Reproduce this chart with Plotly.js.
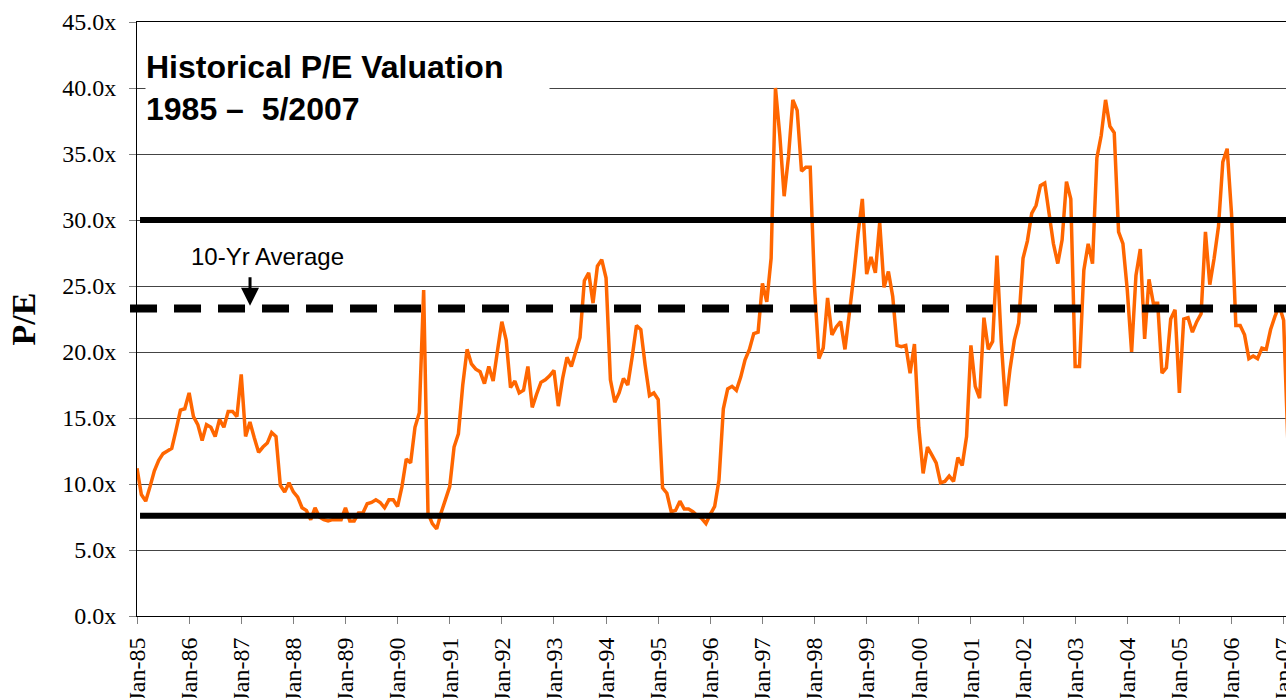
<!DOCTYPE html>
<html>
<head>
<meta charset="utf-8">
<script src="https://cdn.plot.ly/plotly-3.0.1.min.js"></script>
<style>
  html, body { margin: 0; padding: 0; overflow: hidden; background: #ffffff; }
  #chart { width: 1320px; height: 740px; }
</style>
</head>
<body>
<div id="chart"></div>
<script>
// Monthly P/E multiples, Jan-1985 onward (one row per year)
const peValues = [
  11.2, 9.2, 8.7, 9.8, 11.0, 11.8, 12.3, 12.5, 12.7, 14.1, 15.6, 15.7,   // 1985
  16.9, 15.1, 14.5, 13.3, 14.5, 14.3, 13.6, 14.9, 14.3, 15.5, 15.5, 15.1, // 1986
  18.3, 13.6, 14.7, 13.5, 12.4, 12.8, 13.1, 13.9, 13.6, 9.9, 9.4, 10.1,   // 1987
  9.4, 9.0, 8.2, 8.0, 7.3, 8.2, 7.5, 7.3, 7.2, 7.3, 7.3, 7.3,             // 1988
  8.2, 7.2, 7.2, 7.8, 7.8, 8.5, 8.6, 8.8, 8.6, 8.2, 8.8, 8.8,             // 1989
  8.3, 9.8, 11.9, 11.6, 14.3, 15.4, 24.7, 7.8, 7.0, 6.6, 7.8, 8.8,        // 1990
  9.8, 12.8, 13.8, 17.5, 20.2, 19.1, 18.7, 18.5, 17.6, 18.9, 17.8, 20.1,  // 1991
  22.3, 20.9, 17.3, 17.8, 16.9, 17.1, 18.9, 15.8, 16.8, 17.7, 17.9, 18.2, // 1992
  18.6, 15.9, 18.0, 19.6, 18.9, 20.0, 21.1, 25.4, 26.0, 23.7, 26.5, 27.0, // 1993
  25.6, 17.9, 16.2, 16.9, 18.0, 17.5, 19.6, 22.0, 21.7, 19.0, 16.7, 16.9, // 1994
  16.4, 9.7, 9.3, 7.9, 8.0, 8.7, 8.1, 8.1, 7.9, 7.6, 7.4, 7.0,            // 1995
  7.7, 8.3, 10.3, 15.7, 17.2, 17.4, 17.1, 18.1, 19.4, 20.2, 21.4, 21.5,   // 1996
  25.2, 23.8, 27.1, 40.0, 36.4, 31.8, 34.8, 39.1, 38.3, 33.7, 34.0, 34.0, // 1997
  24.9, 19.5, 20.3, 24.1, 21.3, 21.9, 22.3, 20.2, 22.9, 25.7, 28.9, 31.6, // 1998
  25.9, 27.2, 26.0, 29.8, 24.9, 26.1, 24.2, 20.5, 20.4, 20.5, 18.4, 20.6, // 1999
  14.3, 10.8, 12.8, 12.2, 11.6, 10.1, 10.2, 10.6, 10.2, 12.0, 11.4, 13.6, // 2000
  20.5, 17.4, 16.5, 22.6, 20.2, 20.8, 27.3, 20.7, 15.9, 18.7, 20.9, 22.2, // 2001
  27.1, 28.4, 30.5, 31.1, 32.6, 32.8, 30.5, 28.2, 26.7, 28.5, 32.9, 31.6, // 2002
  18.9, 18.9, 26.2, 28.2, 26.7, 34.7, 36.4, 39.1, 37.1, 36.6, 29.1, 28.2, // 2003
  24.7, 20.0, 25.8, 27.8, 21.0, 25.5, 23.7, 23.7, 18.4, 18.8, 22.5, 23.2, // 2004
  16.9, 22.5, 22.6, 21.5, 22.3, 22.9, 29.1, 25.1, 27.1, 29.5, 34.4, 35.4, // 2005
  30.5, 22.0, 22.0, 21.3, 19.5, 19.7, 19.5, 20.3, 20.2, 21.7, 22.7, 23.5, // 2006
  22.4, 13.0                                                              // 2007
];

// Tick labels, one per January
const tickLabels = ["Jan-85","Jan-86","Jan-87","Jan-88","Jan-89","Jan-90","Jan-91","Jan-92",
  "Jan-93","Jan-94","Jan-95","Jan-96","Jan-97","Jan-98","Jan-99","Jan-00","Jan-01","Jan-02",
  "Jan-03","Jan-04","Jan-05","Jan-06","Jan-07"];

// Reference levels
const upperBand = 30.0;
const lowerBand = 7.6;
const tenYrAverage = 23.3;

const titleText = "Historical P/E Valuation<br>1985 –&nbsp; 5/2007";
const avgLabel = "10-Yr Average";
const yTitle = "P/E";

// month index positions (0 = Jan-85)
const monthIndex = peValues.map((v, i) => i);
const tickPositions = tickLabels.map((t, i) => i * 12);

const trace = {
  x: monthIndex,
  y: peValues,
  type: 'scatter',
  mode: 'lines',
  line: { color: '#FF6600', width: 3.5, simplify: false },
  hoverinfo: 'skip'
};

const serif = 'Liberation Serif, Times New Roman, serif';
const sans = 'Liberation Sans, Arial, sans-serif';

const layout = {
  width: 1320,
  height: 740,
  margin: { l: 137, r: 19, t: 22, b: 124 },
  paper_bgcolor: '#ffffff',
  plot_bgcolor: '#ffffff',
  showlegend: false,
  xaxis: {
    range: [0, 268],
    tickmode: 'array',
    tickvals: tickPositions,
    ticktext: tickLabels,
    tickangle: -90,
    ticks: 'outside',
    ticklen: 7,
    tickcolor: '#808080',
    tickwidth: 1,
    tickfont: { family: serif, size: 24, color: '#000000' },
    ticklabelstandoff: 4,
    showgrid: false,
    zeroline: false,
    showline: true,
    linecolor: '#000000',
    linewidth: 1,
    mirror: true
  },
  yaxis: {
    range: [0, 45],
    tickmode: 'linear',
    tick0: 0,
    dtick: 5,
    tickformat: '.1f',
    ticksuffix: 'x',
    ticks: 'outside',
    ticklen: 7,
    tickcolor: '#808080',
    tickwidth: 1,
    tickfont: { family: serif, size: 24, color: '#000000' },
    ticklabelstandoff: 8,
    showgrid: true,
    gridcolor: '#444444',
    gridwidth: 1,
    zeroline: false,
    showline: true,
    linecolor: '#000000',
    linewidth: 1,
    title: {
      text: '<b>' + yTitle + '</b>',
      font: { family: serif, size: 34, color: '#000000' },
      standoff: 16
    }
  },
  shapes: [
    { type: 'line', xref: 'paper', yref: 'y', x0: 0.0026, x1: 1, y0: upperBand, y1: upperBand,
      line: { color: '#000000', width: 6 } },
    { type: 'line', xref: 'paper', yref: 'y', x0: 0.0026, x1: 1, y0: lowerBand, y1: lowerBand,
      line: { color: '#000000', width: 6 } },
    { type: 'line', xref: 'paper', yref: 'y', x0: -0.006, x1: 1, y0: tenYrAverage, y1: tenYrAverage,
      line: { color: '#000000', width: 8, dash: '27px,17px' } }
  ],
  annotations: [
    {
      xref: 'paper', yref: 'paper',
      x: 0.0069, y: 0.957,
      xanchor: 'left', yanchor: 'top',
      text: '<b>' + titleText + '</b>',
      align: 'left',
      showarrow: false,
      width: 403,
      bgcolor: '#ffffff',
      borderpad: 0,
      font: { family: sans, size: 32, color: '#000000' }
    },
    {
      xref: 'paper', yref: 'paper',
      x: 0.1125, y: 0.6044,
      xanchor: 'center', yanchor: 'middle',
      text: avgLabel,
      showarrow: false,
      font: { family: sans, size: 24, color: '#000000' }
    },
    {
      xref: 'paper', yref: 'y',
      x: 0.0971, y: tenYrAverage + 0.2,
      text: '',
      showarrow: true,
      axref: 'pixel', ayref: 'pixel',
      ax: 0, ay: -30,
      arrowhead: 2,
      arrowsize: 1.2,
      arrowwidth: 3,
      arrowcolor: '#000000',
      standoff: 0,
      startstandoff: 0
    }
  ]
};

Plotly.newPlot('chart', [trace], layout, { displayModeBar: false, staticPlot: true });
</script>
</body>
</html>
